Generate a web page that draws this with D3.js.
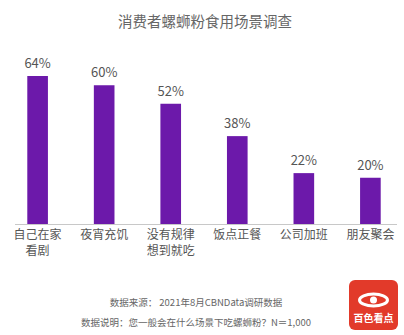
<!DOCTYPE html>
<meta charset="utf-8">
<html>
<head>
<script src="https://cdn.jsdelivr.net/npm/d3@7/dist/d3.min.js"></script>
<style>
  body { margin: 0; background: #fff; }
  text { font-family: "Noto Sans CJK SC", "Noto Sans", sans-serif; }
</style>
</head>
<body>
<div class="chart"></div>
<script>
var categories = [["自己在家", "看剧"], ["夜宵充饥"], ["没有规律", "想到就吃"], ["饭点正餐"], ["公司加班"], ["朋友聚会"]];
var values = [64, 60, 52, 38, 22, 20];
var title = "消费者螺蛳粉食用场景调查";
var notes = ["数据来源：  2021年8月CBNData调研数据", "数据说明：您一般会在什么场景下吃螺蛳粉？N＝1,000"];

var width = 404, height = 335;
var baseY = 224;

var svg = d3.select(".chart").append("svg")
    .attr("width", width)
    .attr("height", height);

svg.append("text")
    .attr("x", 205)
    .attr("y", 27)
    .attr("text-anchor", "middle")
    .style("font-size", "14.5px")
    .style("fill", "#666")
    .text(title);

var x = d3.scaleBand()
    .domain(d3.range(values.length))
    .range([4, 404])
    .paddingInner(0.69)
    .paddingOuter(0.35);

var y = d3.scaleLinear().domain([0, 64]).range([baseY, 76]);

svg.selectAll(".bar")
    .data(values).enter()
    .append("rect")
    .attr("class", "bar")
    .attr("x", function(d, i){ return x(i); })
    .attr("y", function(d){ return y(d); })
    .attr("width", x.bandwidth())
    .attr("height", function(d){ return baseY - y(d); })
    .style("fill", "#6c19aa");

svg.selectAll(".val")
    .data(values).enter()
    .append("text")
    .attr("class", "val")
    .attr("x", function(d, i){ return x(i) + x.bandwidth() / 2; })
    .attr("y", function(d){ return y(d) - 8; })
    .attr("text-anchor", "middle")
    .style("font-size", "13px")
    .style("fill", "#555")
    .text(function(d){ return d + "%"; });

svg.append("line")
    .attr("x1", 15).attr("x2", 397)
    .attr("y1", baseY + 0.5).attr("y2", baseY + 0.5)
    .style("stroke", "#c8c8c8");

var labels = svg.selectAll(".cat")
    .data(categories).enter()
    .append("text")
    .attr("class", "cat")
    .attr("text-anchor", "middle")
    .style("font-size", "12px")
    .style("fill", "#555");

labels.selectAll("tspan")
    .data(function(d, i){ return d.map(function(t){ return {t: t, i: i}; }); })
    .enter().append("tspan")
    .attr("x", function(d){ return x(d.i) + x.bandwidth() / 2; })
    .attr("y", function(d, j){ return 239 + j * 16; })
    .text(function(d){ return d.t; });

svg.selectAll(".note")
    .data(notes).enter()
    .append("text")
    .attr("class", "note")
    .attr("x", 196)
    .attr("y", function(d, i){ return 306 + i * 20; })
    .attr("text-anchor", "middle")
    .style("font-size", "9.5px")
    .style("fill", "#666")
    .text(function(d){ return d; });

// logo
var logo = svg.append("g").attr("transform", "translate(349,280)");
logo.append("rect")
    .attr("width", 49).attr("height", 50).attr("rx", 6)
    .style("fill", "#e23a2a");
logo.append("ellipse")
    .attr("cx", 24.5).attr("cy", 20).attr("rx", 14).attr("ry", 6)
    .style("fill", "none").style("stroke", "#fff").style("stroke-width", 3);
logo.append("circle")
    .attr("cx", 24.5).attr("cy", 20).attr("r", 3.5)
    .style("fill", "#fff");
logo.append("text")
    .attr("x", 24.5).attr("y", 42)
    .attr("text-anchor", "middle")
    .style("font-size", "10px")
    .style("font-weight", "bold")
    .style("fill", "#fff")
    .text("百色看点");
</script>
</body>
</html>
